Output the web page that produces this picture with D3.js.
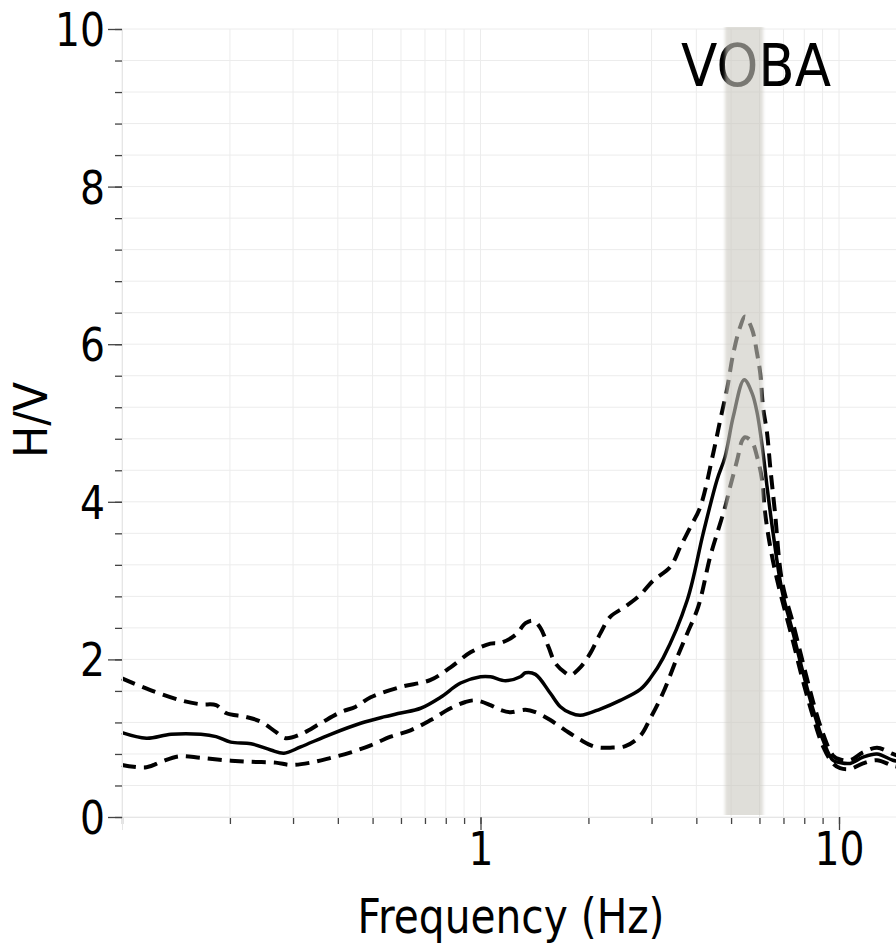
<!DOCTYPE html>
<html>
<head>
<meta charset="utf-8">
<script src="https://cdn.jsdelivr.net/npm/d3@7"></script>
<style>
  html, body { margin: 0; padding: 0; background: #fff; }
  svg { display: block; }
  text { font-family: 'DejaVu Sans', Verdana, sans-serif; fill: #000; }
</style>
</head>
<body>
<svg class="hv-chart"></svg>
<script>
// H/V spectral ratio, station VOBA

const meanFreq = [0.1, 0.117, 0.137, 0.166, 0.183, 0.201, 0.229, 0.260, 0.283, 0.315, 0.382, 0.463, 0.537, 0.599, 0.681, 0.774, 0.880, 1.0, 1.066, 1.174, 1.292, 1.335, 1.423, 1.566, 1.670, 1.781, 1.899, 2.159, 2.454, 2.791, 2.975, 3.233, 3.772, 4.18, 4.57, 4.81, 5.07, 5.44, 5.72, 5.91, 6.14, 6.30, 6.55, 6.93, 7.45, 7.94, 8.47, 9.02, 9.62, 10.07, 10.74, 11.67, 12.77, 14.13, 15.0]
const meanHV = [1.07, 1.00, 1.05, 1.05, 1.02, 0.95, 0.93, 0.85, 0.81, 0.89, 1.05, 1.19, 1.27, 1.32, 1.38, 1.52, 1.70, 1.78, 1.78, 1.73, 1.78, 1.83, 1.81, 1.57, 1.40, 1.32, 1.29, 1.37, 1.48, 1.62, 1.76, 2.02, 2.75, 3.60, 4.28, 4.57, 5.08, 5.55, 5.38, 5.13, 4.62, 4.19, 3.60, 2.88, 2.33, 1.83, 1.36, 0.98, 0.72, 0.69, 0.68, 0.76, 0.80, 0.72, 0.70]

const upperFreq = [0.1, 0.12, 0.146, 0.166, 0.183, 0.195, 0.2215, 0.244, 0.2685, 0.286, 0.315, 0.358, 0.407, 0.449, 0.494, 0.599, 0.726, 0.825, 0.938, 1.066, 1.137, 1.252, 1.335, 1.404, 1.469, 1.547, 1.618, 1.725, 1.781, 1.899, 2.025, 2.159, 2.30, 2.535, 2.791, 3.03, 3.38, 3.61, 3.85, 4.10, 4.46, 4.66, 4.88, 5.07, 5.30, 5.47, 5.72, 5.91, 6.03, 6.14, 6.30, 6.43, 6.63, 6.93, 7.45, 7.94, 8.47, 9.02, 9.62, 10.07, 10.74, 11.67, 12.77, 14.13, 15.0]
const upperHV = [1.76, 1.61, 1.48, 1.43, 1.42, 1.32, 1.27, 1.21, 1.08, 1.00, 1.05, 1.19, 1.33, 1.40, 1.52, 1.65, 1.74, 1.90, 2.09, 2.20, 2.21, 2.31, 2.46, 2.49, 2.40, 2.16, 1.95, 1.83, 1.80, 1.90, 2.08, 2.33, 2.54, 2.67, 2.82, 3.00, 3.17, 3.43, 3.68, 3.93, 4.62, 5.03, 5.45, 5.88, 6.22, 6.35, 6.19, 5.88, 5.63, 5.20, 4.87, 4.44, 3.86, 3.00, 2.45, 1.95, 1.46, 1.06, 0.78, 0.73, 0.72, 0.82, 0.88, 0.80, 0.76]

const lowerFreq = [0.1, 0.117, 0.1285, 0.144, 0.166, 0.195, 0.229, 0.2685, 0.296, 0.336, 0.382, 0.435, 0.494, 0.5615, 0.638, 0.726, 0.825, 0.908, 0.968, 1.066, 1.137, 1.212, 1.335, 1.423, 1.566, 1.725, 1.899, 2.09, 2.30, 2.535, 2.791, 2.975, 3.233, 3.54, 3.772, 4.05, 4.37, 4.60, 4.81, 4.97, 5.20, 5.37, 5.47, 5.72, 5.91, 6.10, 6.22, 6.43, 6.72, 7.45, 7.94, 8.47, 9.02, 9.62, 10.07, 10.74, 11.67, 12.77, 14.13, 15.0]
const lowerHV = [0.66, 0.63, 0.70, 0.77, 0.75, 0.72, 0.70, 0.69, 0.66, 0.69, 0.75, 0.82, 0.91, 1.02, 1.10, 1.23, 1.38, 1.46, 1.48, 1.42, 1.36, 1.33, 1.36, 1.33, 1.23, 1.10, 0.98, 0.89, 0.88, 0.90, 1.03, 1.25, 1.58, 2.03, 2.33, 2.67, 3.30, 3.64, 3.93, 4.19, 4.53, 4.78, 4.82, 4.76, 4.57, 4.28, 3.86, 3.43, 3.01, 2.22, 1.72, 1.27, 0.90, 0.68, 0.62, 0.61, 0.68, 0.72, 0.65, 0.63]

// peak frequency band (Hz)
const bandRange = [4.81, 6.14]

const yTickLabels = [0, 2, 4, 6, 8, 10]
const xTickLabels = [1, 10]
const stationName = 'VOBA'

const draw = () => {

    const width = 896
    const height = 944
    const left = 122, top = 29, bottom = 817

    const svg = d3.select('.hv-chart')
        .attr('width', width)
        .attr('height', height)

    // log frequency axis, one decade = 359px
    const x = d3.scaleLog()
        .domain([0.1, 10])
        .range([left, 839])

    const y = d3.scaleLinear()
        .domain([0, 10])
        .range([bottom, top])

    const xMinor = []
    ;[0.1, 1, 10].forEach(dec => d3.range(1, 10).forEach(k => xMinor.push(+(k*dec).toPrecision(3))))
    const xGrid = xMinor.filter(v => x(v) < width + 5)
    const yMinor = d3.range(0, 10.001, 0.4).map(v => +v.toFixed(1))

    // grid
    const grid = svg.append('g').attr('class', 'grid')
    grid.selectAll('line.v')
        .data(xGrid)
        .enter()
        .append('line')
        .attr('x1', d => x(d)).attr('x2', d => x(d))
        .attr('y1', top).attr('y2', bottom)
        .attr('stroke', '#ececec')
        .attr('stroke-width', 1)
    grid.selectAll('line.h')
        .data(yMinor)
        .enter()
        .append('line')
        .attr('x1', left).attr('x2', width)
        .attr('y1', d => y(d)).attr('y2', d => y(d))
        .attr('stroke', '#ececec')
        .attr('stroke-width', 1)

    // curves
    const line = d3.line()
        .x(d => x(d[0]))
        .y(d => y(d[1]))
        .curve(d3.curveCatmullRom.alpha(0.5))

    const series = [
        { f: upperFreq, v: upperHV, dash: '14,8', w: 4 },
        { f: lowerFreq, v: lowerHV, dash: '14,8', w: 4 },
        { f: meanFreq, v: meanHV, dash: null, w: 3.5 }
    ]

    svg.append('g')
        .selectAll('path')
        .data(series)
        .enter()
        .append('path')
        .attr('d', s => line(s.f.map((f, i) => [f, s.v[i]])))
        .attr('fill', 'none')
        .attr('stroke', '#000')
        .attr('stroke-width', s => s.w)
        .attr('stroke-dasharray', s => s.dash)
        .attr('stroke-linejoin', 'round')

    // station name
    svg.append('text')
        .attr('x', 756)
        .attr('y', 86)
        .attr('text-anchor', 'middle')
        .attr('font-size', 58)
        .attr('textLength', 150)
        .attr('lengthAdjust', 'spacingAndGlyphs')
        .text(stationName)

    // translucent band over everything it crosses
    const defs = svg.append('defs')
    defs.append('filter')
        .attr('id', 'soft')
        .attr('x', '-20%').attr('width', '140%')
        .append('feGaussianBlur')
        .attr('stdDeviation', '1.8 0')

    svg.append('rect')
        .attr('x', x(bandRange[0]))
        .attr('width', x(bandRange[1]) - x(bandRange[0]))
        .attr('y', top - 2)
        .attr('height', bottom - top)
        .attr('fill', 'rgb(202,200,191)')
        .attr('fill-opacity', 0.6)
        .attr('filter', 'url(#soft)')

    // y axis: minor and major ticks
    const yMinorAxis = d3.axisLeft(y)
        .tickValues(yMinor)
        .tickSize(7)
        .tickFormat('')
    const yMajorAxis = d3.axisLeft(y)
        .tickValues(yTickLabels)
        .tickSize(14)
        .tickPadding(3)
        .tickFormat(d3.format('d'))

    const gyMin = svg.append('g').attr('transform', `translate(${left},0)`).call(yMinorAxis)
    const gyMaj = svg.append('g').attr('transform', `translate(${left},0)`).call(yMajorAxis)

    // x axis
    const xMinorAxis = d3.axisBottom(x)
        .tickValues(xGrid)
        .tickSize(7)
        .tickFormat('')
    const xMajorAxis = d3.axisBottom(x)
        .tickValues(xTickLabels)
        .tickSize(13)
        .tickPadding(2)
        .tickFormat(d3.format('d'))

    const gxMin = svg.append('g').attr('transform', `translate(0,${bottom})`).call(xMinorAxis)
    const gxMaj = svg.append('g').attr('transform', `translate(0,${bottom})`).call(xMajorAxis)

    ;[gyMin, gyMaj, gxMin, gxMaj].forEach(g => {
        g.select('.domain').attr('stroke', '#e6e6e6')
        g.selectAll('.tick line').attr('stroke', '#444').attr('stroke-width', 1.3)
        g.selectAll('.tick text')
            .attr('font-size', 46)
            .attr('font-family', "'DejaVu Sans', Verdana, sans-serif")
            .attr('fill', '#000')
            .attr('textLength', d => String(d).length * 25)
            .attr('lengthAdjust', 'spacingAndGlyphs')
    })
    gyMaj.selectAll('.tick text').attr('dy', '0.36em')

    // axis titles
    svg.append('text')
        .attr('x', 511)
        .attr('y', 933)
        .attr('text-anchor', 'middle')
        .attr('font-size', 48)
        .attr('textLength', 307)
        .attr('lengthAdjust', 'spacingAndGlyphs')
        .text('Frequency (Hz)')

    svg.append('text')
        .attr('transform', 'translate(47,420) rotate(-90)')
        .attr('text-anchor', 'middle')
        .attr('font-size', 47)
        .attr('textLength', 76)
        .attr('lengthAdjust', 'spacingAndGlyphs')
        .text('H/V')
}

draw()
</script>
</body>
</html>
